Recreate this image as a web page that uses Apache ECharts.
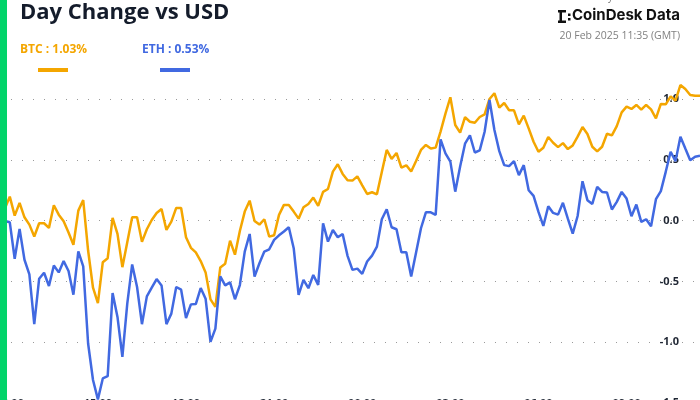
<!DOCTYPE html>
<html>
<head>
<meta charset="utf-8">
<script src="https://cdn.jsdelivr.net/npm/echarts@6/dist/echarts.min.js"></script>
<style>
  html, body { margin: 0; padding: 0; background: #fff; }
  #chart { width: 700px; height: 400px; }
</style>
</head>
<body>
<div id="chart"></div>
<script>
// 10 minute steps, 19 Feb 11:40 -> 20 Feb 11:30 (GMT)
const startMinute = 11 * 60 + 40;
const times = [];
for (let i = 0; i < 144; i++) {
  const m = (startMinute + i * 10) % 1440;
  times.push(String(Math.floor(m / 60)).padStart(2, '0') + ':' + String(m % 60).padStart(2, '0'));
}
const xTickLabels = ['12:00', '15:00', '18:00', '21:00', '00:00', '03:00', '06:00', '09:00'];

const btc = [
  0.08, 0.10, 0.197, 0.041, 0.145, 0.027, -0.033, -0.131, -0.022, -0.022,
  -0.060, 0.126, 0.049, -0.005, -0.098, -0.199, 0.082, 0.169, -0.246, -0.552,
  -0.678, -0.342, -0.309, 0.022, -0.109, -0.383, -0.178, 0.027, 0.027, -0.175,
  -0.071, 0.005, 0.063, 0.096, -0.077, -0.008, 0.104, 0.104, -0.137, -0.224,
  -0.262, -0.333, -0.426, -0.648, -0.710, -0.385, -0.355, -0.165, -0.280, -0.086,
  0.074, 0.164, -0.003, -0.033, 0.011, -0.132, -0.121, 0.047, 0.129, 0.129,
  0.074, 0.016, 0.110, 0.137, 0.189, 0.121, 0.236, 0.260, 0.403, 0.463,
  0.384, 0.332, 0.329, 0.364, 0.290, 0.219, 0.233, 0.216, 0.400, 0.581,
  0.507, 0.556, 0.436, 0.455, 0.403, 0.490, 0.581, 0.622, 0.592, 0.600,
  0.732, 0.880, 1.014, 0.786, 0.723, 0.850, 0.813, 0.805, 0.852, 0.874,
  1.000, 1.047, 0.929, 0.967, 0.907, 0.907, 0.791, 0.863, 0.758, 0.648,
  0.566, 0.599, 0.687, 0.640, 0.604, 0.637, 0.588, 0.618, 0.690, 0.769,
  0.712, 0.607, 0.569, 0.607, 0.714, 0.701, 0.777, 0.890, 0.937, 0.918,
  0.951, 0.912, 0.951, 0.915, 0.841, 0.959, 0.956, 1.022, 0.986, 1.115,
  1.082, 1.033, 1.027, 1.027
];

const eth = [
  0.01, -0.003, -0.014, -0.314, -0.068, -0.322, -0.443, -0.852, -0.478, -0.429,
  -0.538, -0.369, -0.426, -0.333, -0.415, -0.609, -0.254, -0.377, -1.011, -1.311,
  -1.47, -1.298, -1.279, -0.596, -0.792, -1.120, -0.683, -0.361, -0.546, -0.852,
  -0.623, -0.552, -0.481, -0.533, -0.852, -0.765, -0.546, -0.568, -0.801, -0.689,
  -0.686, -0.555, -0.642, -0.997, -0.888, -0.459, -0.533, -0.508, -0.647, -0.530,
  -0.255, -0.110, -0.460, -0.351, -0.255, -0.236, -0.159, -0.121, -0.090, -0.055,
  -0.227, -0.611, -0.488, -0.556, -0.447, -0.529, -0.022, -0.173, -0.077, -0.137,
  -0.110, -0.290, -0.405, -0.395, -0.438, -0.337, -0.288, -0.214, 0.011, 0.093,
  -0.055, -0.071, -0.260, -0.260, -0.460, -0.263, -0.063, 0.068, 0.068, 0.047,
  0.668, 0.553, 0.485, 0.238, 0.444, 0.632, 0.700, 0.560, 0.577, 0.731,
  0.992, 0.745, 0.571, 0.456, 0.448, 0.489, 0.374, 0.456, 0.250, 0.203,
  0.071, -0.044, 0.118, 0.063, 0.049, 0.146, 0.016, -0.107, 0.038, 0.324,
  0.168, 0.137, 0.277, 0.236, 0.231, 0.091, 0.154, 0.236, 0.181, 0.036,
  0.132, -0.011, 0.011, -0.047, 0.176, 0.242, 0.401, 0.566, 0.489, 0.690,
  0.593, 0.497, 0.525, 0.533
];

const btcColor = '#f4a600';
const ethColor = '#4169e1';
const font = 'Open Sans';

const chart = echarts.init(document.getElementById('chart'), null, { renderer: 'canvas' });

const option = {
  animation: false,
  backgroundColor: '#fff',
  grid: { left: 0, right: 0, top: 85, height: 318, outerBoundsMode: 'none', containLabel: false },
  xAxis: {
    type: 'category',
    data: times,
    boundaryGap: false,
    axisLine: { show: false },
    axisTick: { show: false },
    splitLine: { show: false },
    axisLabel: {
      interval: (idx, val) => xTickLabels.includes(val),
      margin: -5,
      color: '#1f2633',
      fontFamily: font,
      fontWeight: 'bold',
      fontSize: 11
    }
  },
  yAxis: {
    type: 'value',
    position: 'right',
    min: -1.5,
    max: 'dataMax',
    interval: 0.5,
    axisLine: { show: false },
    axisTick: { show: false },
    axisLabel: {
      inside: true,
      margin: 21,
      showMaxLabel: false,
      formatter: v => v.toFixed(1),
      color: '#1f2633',
      fontFamily: font,
      fontWeight: 'bold',
      fontSize: 11
    },
    splitLine: {
      showMaxLine: false,
      lineStyle: { type: [1, 10], color: '#9a9a9a', width: 1 }
    }
  },
  series: [
    {
      name: 'BTC',
      type: 'line',
      data: btc,
      showSymbol: false,
      lineStyle: { width: 2.5, color: btcColor },
      itemStyle: { color: btcColor }
    },
    {
      name: 'ETH',
      type: 'line',
      data: eth,
      showSymbol: false,
      lineStyle: { width: 2.5, color: ethColor },
      itemStyle: { color: ethColor }
    }
  ],
  graphic: [
    { type: 'rect', left: 0, top: 0, shape: { width: 7, height: 400 }, style: { fill: '#02d46a' }, z: 100 },
    { type: 'text', left: 20, top: 2, style: { text: 'Day Change vs USD', font: 'bold 22px "Open Sans"', fill: '#141c2b' } },
    { type: 'text', left: 20, top: 44, style: { text: 'BTC : ' + btc[btc.length - 1].toFixed(2) + '%', font: 'bold 12px "Open Sans"', fill: btcColor } },
    { type: 'rect', left: 38, top: 68, shape: { width: 30, height: 4 }, style: { fill: btcColor } },
    { type: 'text', left: 142, top: 44, style: { text: 'ETH : ' + eth[eth.length - 1].toFixed(2) + '%', font: 'bold 12px "Open Sans"', fill: ethColor } },
    { type: 'rect', left: 160, top: 68, shape: { width: 30, height: 4 }, style: { fill: ethColor } },
    { type: 'text', left: 558, top: -8, style: { text: 'Powered by', font: '10px "Open Sans"', fill: '#777' } },
    {
      type: 'group', left: 558, top: 10,
      children: [
        { type: 'rect', shape: { x: 0, y: 0, width: 8, height: 2.5 }, style: { fill: '#111' } },
        { type: 'rect', shape: { x: 0, y: 10.5, width: 8, height: 2.5 }, style: { fill: '#111' } },
        { type: 'rect', shape: { x: 1.5, y: 0, width: 2.5, height: 13 }, style: { fill: '#111' } },
        { type: 'rect', shape: { x: 10, y: 3.5, width: 2.5, height: 2.5 }, style: { fill: '#111' } },
        { type: 'rect', shape: { x: 10, y: 8, width: 2.5, height: 2.5 }, style: { fill: '#111' } }
      ]
    },
    { type: 'text', left: 572, top: 8, style: { text: 'CoinDesk Data', font: 'bold 15px Inter', fill: '#111' } },
    { type: 'text', right: 20, top: 31, style: { text: '20 Feb 2025 11:35 (GMT)', font: '10.5px "Open Sans"', fill: '#808080' } }
  ]
};

chart.setOption(option);
</script>
</body>
</html>
